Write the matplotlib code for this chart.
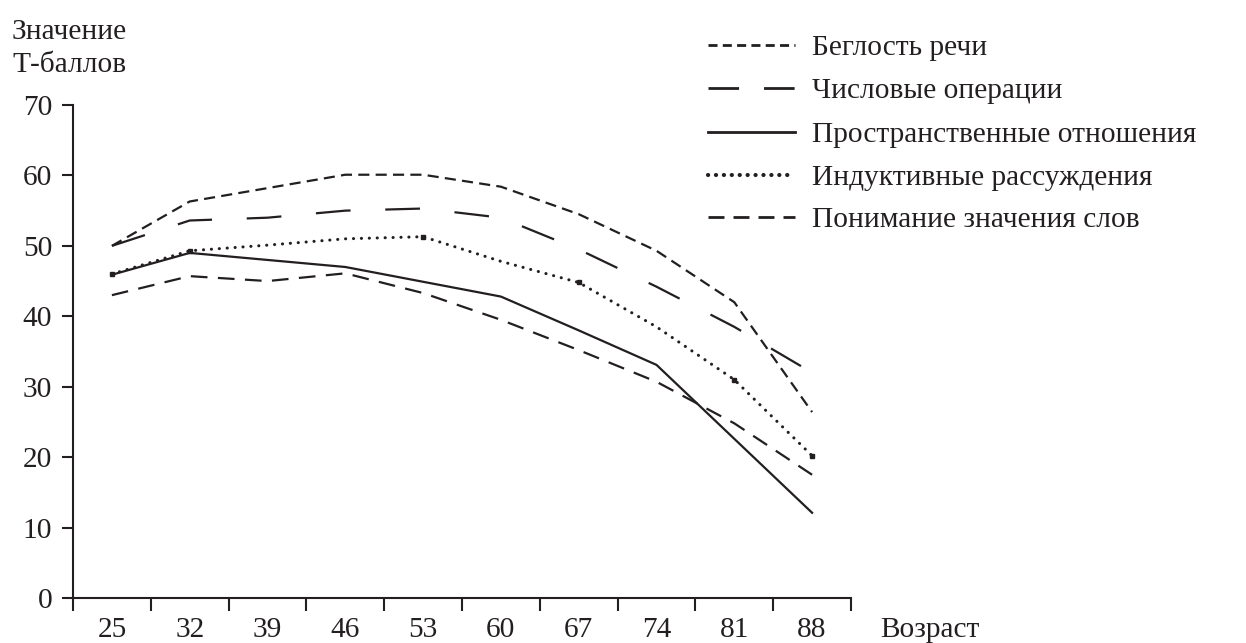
import matplotlib
matplotlib.use("Agg")
import matplotlib.pyplot as plt
from matplotlib.lines import Line2D
import numpy as np

ages = [25, 32, 39, 46, 53, 60, 67, 74, 81, 88]
y_ticks = [0, 10, 20, 30, 40, 50, 60, 70]

fluency = [50.0, 56.3, 58.2, 60.1, 60.1, 58.4, 54.5, 49.3, 42.0, 26.4]
number = [50.0, 53.6, 54.0, 55.0, 55.3, 54.0, 49.5, 44.2, 38.5, 32.0]
spatial = [45.9, 49.0, 48.0, 47.0, 44.9, 42.8, 38.0, 33.1, 22.6, 12.1]
inductive = [46.0, 49.3, 50.1, 51.0, 51.3, 47.8, 44.8, 38.5, 31.0, 20.2]
verbal = [43.0, 45.7, 45.0, 46.1, 43.3, 39.5, 35.2, 30.7, 24.8, 17.5]

names = ["Беглость речи", "Числовые операции", "Пространственные отношения",
         "Индуктивные рассуждения", "Понимание значения слов"]

plt.rcParams['lines.scale_dashes'] = False
plt.rcParams['font.family'] = ['Liberation Serif', 'DejaVu Serif']
INK = '#231f20'
FS = 21.2

W, H = 1246, 643
fig = plt.figure(figsize=(W / 100, H / 100), dpi=100)
ax = fig.add_axes([73 / W, 1 - 598 / H, (851 - 73) / W, (598 - 105) / H])

step = ages[1] - ages[0]
bounds = [a - step / 2 for a in ages] + [ages[-1] + step / 2]
ax.set_xlim(bounds[0], bounds[-1])
ax.set_ylim(0, 70)

lw = 1.6
styles = [
    dict(dashes=(8, 4.5)),
    dict(dashes=(25, 25)),
    dict(linestyle='-'),
    dict(dashes=(0.1, 5.6), dash_capstyle='round', linewidth=2.2),
    dict(dashes=(12, 7.5)),
]
series = [fluency, number, spatial, inductive, verbal]
for s, st in zip(series, styles):
    kw = dict(color=INK, linewidth=lw)
    kw.update(st)
    ax.plot(ages, s, **kw)
# small square marks on the dotted series
ax.plot(ages, inductive, linestyle='none', marker='s', markersize=3.4,
        color=INK, markevery=[0, 1, 4, 6, 8, 9])

for sp in ['top', 'right']:
    ax.spines[sp].set_visible(False)
for sp in ['left', 'bottom']:
    ax.spines[sp].set_linewidth(1.5)
    ax.spines[sp].set_color(INK)

ax.set_yticks(y_ticks)
ax.set_yticklabels([str(v) for v in y_ticks])
ax.tick_params(axis='y', length=8, width=1.5, pad=7, labelsize=FS,
               colors=INK, direction='out')
ax.set_xticks(bounds)
ax.set_xticklabels([])
ax.tick_params(axis='x', which='major', length=9.5, width=1.5, colors=INK,
               direction='out')
ax.set_xticks(ages, minor=True)
ax.set_xticklabels([str(a) for a in ages], minor=True)
ax.tick_params(axis='x', which='minor', length=0, pad=14, labelsize=FS,
               colors=INK)

fig.text(12 / W, 1 - 39 / H, "Значение", fontsize=FS, color=INK,
         ha='left', va='baseline')
fig.text(12 / W, 1 - 72 / H, "Т-баллов", fontsize=FS, color=INK,
         ha='left', va='baseline')
fig.text(880 / W, 1 - 637 / H, "Возраст", fontsize=FS, color=INK,
         ha='left', va='baseline')

# manual legend
leg_styles = [
    dict(dashes=(6.5, 3.8)),
    dict(dashes=(22, 18)),
    dict(linestyle='-'),
    dict(dashes=(0.1, 5.6), dash_capstyle='round', linewidth=3.0),
    dict(dashes=(11.5, 6.5)),
]
baselines = [55, 98, 142, 185, 227]
for name, st, b in zip(names, leg_styles, baselines):
    yl = 1 - (b - 10) / H
    kw = dict(color=INK, linewidth=2.0)
    kw.update(st)
    fig.add_artist(Line2D([708 / W, 795 / W], [yl, yl], transform=fig.transFigure, **kw))
    fig.text(812 / W, 1 - b / H, name, fontsize=FS, color=INK,
             ha='left', va='baseline')

fig.savefig("out.png", dpi=100)
